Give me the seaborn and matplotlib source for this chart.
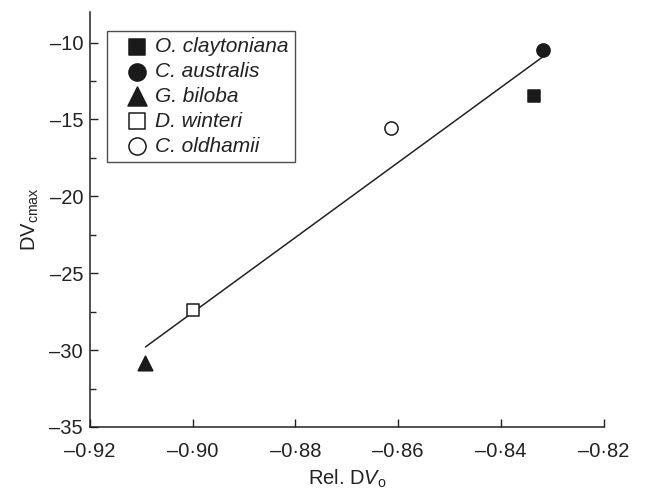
import seaborn as sns
import pandas as pd
import matplotlib.pyplot as plt
from matplotlib.ticker import FuncFormatter, MultipleLocator

# data
species = ['O. claytoniana', 'C. australis', 'G. biloba', 'D. winteri', 'C. oldhamii']
rel_dvo = [-0.8336, -0.8319, -0.9092, -0.9000, -0.8614]
dv_cmax = [-13.46, -10.47, -30.86, -27.40, -15.58]
markers = ['s', 'o', '^', 's', 'o']
filled = [True, True, True, False, False]

df = pd.DataFrame({'Species': species, 'RelDVo': rel_dvo, 'DVcmax': dv_cmax})

sns.set_theme(style='ticks')
plt.rcParams['font.family'] = ['Liberation Sans', 'DejaVu Sans']
plt.rcParams['mathtext.fontset'] = 'custom'
plt.rcParams['mathtext.rm'] = 'Liberation Sans'
plt.rcParams['mathtext.it'] = 'Liberation Sans:italic'

fig = plt.figure(figsize=(6.45, 4.93), dpi=100)
ax = fig.add_axes([0.1395, 0.134, 0.7965, 0.842])

# regression line through all points
sns.regplot(x='RelDVo', y='DVcmax', data=df, ci=None, scatter=False, truncate=True,
            line_kws=dict(color='#222222', linewidth=1.1), ax=ax)

sizes = {'s': 70, 'o': 90, '^': 110}
for sp, m, f in zip(species, markers, filled):
    sub = df[df['Species'] == sp]
    sns.scatterplot(x='RelDVo', y='DVcmax', data=sub, marker=m, s=sizes[m],
                    facecolor='#1a1a1a' if f else 'white', edgecolor='#1a1a1a',
                    linewidth=1.1, label=sp, ax=ax, zorder=3)

ax.set_xlim(-0.92, -0.82)
ax.set_ylim(-35, -8)
ax.xaxis.set_major_locator(MultipleLocator(0.02))
ax.set_yticks([-35, -30, -25, -20, -15, -10])
ax.yaxis.set_minor_locator(MultipleLocator(2.5))


def dot_fmt(v, pos):
    return f'{v:.2f}'.replace('.', '\u00b7').replace('-', '\u2013')


def y_fmt(v, pos):
    return f'{int(round(v))}'.replace('-', '\u2013')


ax.xaxis.set_major_formatter(FuncFormatter(dot_fmt))
ax.yaxis.set_major_formatter(FuncFormatter(y_fmt))

ax.tick_params(axis='both', which='major', direction='in', length=6, width=1,
               labelsize=14.5, colors='#222222')
ax.tick_params(axis='x', which='major', pad=11)
ax.tick_params(axis='y', which='major', pad=5)
ax.tick_params(axis='y', which='minor', direction='in', length=4, width=1)
ax.tick_params(axis='x', which='minor', bottom=False)
sns.despine(ax=ax)
for sp_name in ['left', 'bottom']:
    ax.spines[sp_name].set_linewidth(1.1)
    ax.spines[sp_name].set_color('#222222')

ax.set_xlabel('Rel. D$\\mathit{V}_{\\rm o}$', fontsize=14.5, color='#222222', labelpad=5)
ax.set_ylabel('DV$_{\\rm cmax}$', fontsize=14.5, color='#222222', labelpad=6)

leg = ax.legend(loc='upper left', bbox_to_anchor=(0.033, 0.954), borderaxespad=0,
                frameon=True, fancybox=False, edgecolor='#222222',
                prop=dict(family='Liberation Sans', style='italic', size=15),
                handletextpad=-0.3, labelspacing=0.28, borderpad=0.3,
                handlelength=2.3, markerscale=1.3)
leg.get_frame().set_linewidth(1.0)
for t in leg.get_texts():
    t.set_color('#222222')

fig.savefig('out.png', dpi=100, facecolor='white')
